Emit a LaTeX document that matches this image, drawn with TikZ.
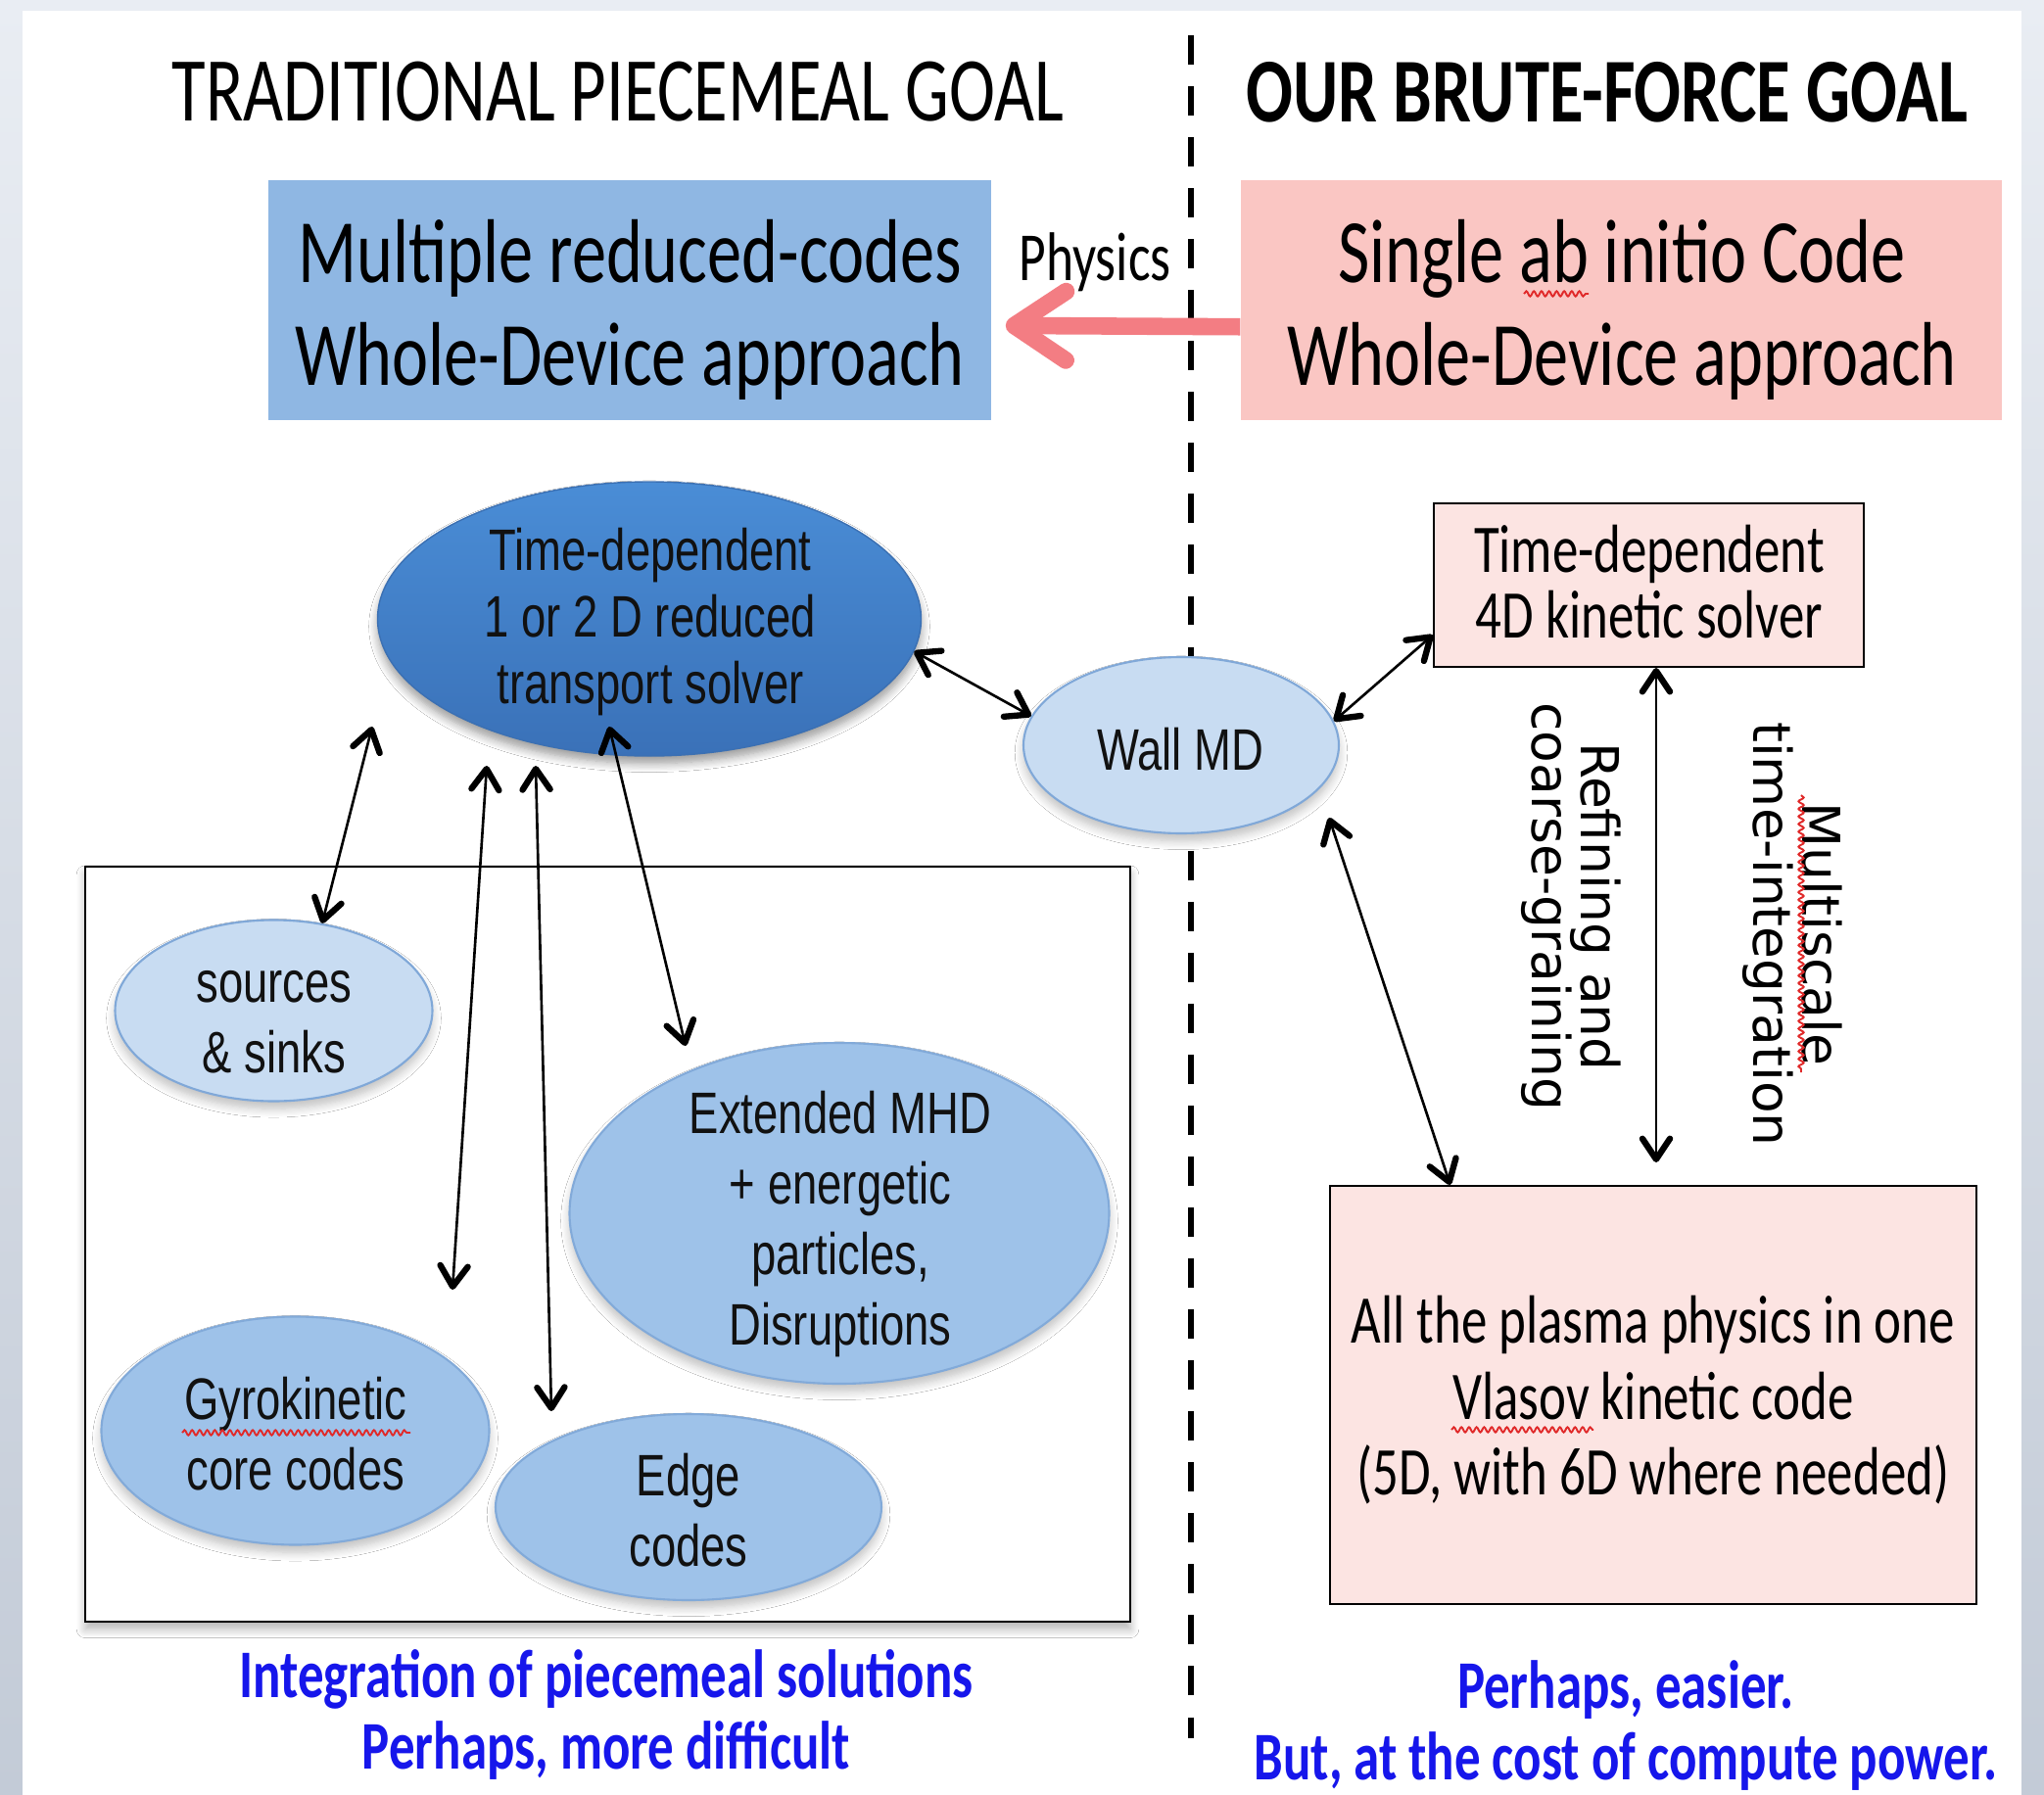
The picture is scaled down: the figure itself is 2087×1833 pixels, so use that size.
\documentclass[tikz,border=0pt]{standalone}
\usepackage{fontspec}
\newfontfamily\calfont[FakeStretch=0.76]{Carlito}
\newfontfamily\arfont[FakeStretch=0.76]{Liberation Sans}
\newfontfamily\vfont{DejaVu Sans}
\usetikzlibrary{arrows.meta,shapes.geometric,shadows.blur,decorations.pathmorphing,calc}

\definecolor{PageGrey}{HTML}{E9EDF3}
\definecolor{PageGreyLow}{HTML}{C3CBD7}
\definecolor{SteelBox}{HTML}{8FB7E3}
\definecolor{RoseBox}{HTML}{FAC6C3}
\definecolor{PaleRose}{HTML}{FCE4E2}
\definecolor{ArrowPink}{HTML}{F37D83}
\definecolor{DarkTop}{HTML}{4A8DD6}
\definecolor{DarkBot}{HTML}{3A71B8}
\definecolor{DarkEdge}{HTML}{3B70B3}
\definecolor{LightFill}{HTML}{C8DCF2}
\definecolor{LightEdge}{HTML}{80A8D8}
\definecolor{MidFill}{HTML}{9EC2E9}
\definecolor{MidEdge}{HTML}{82AAD9}
\definecolor{NoteBlue}{RGB}{22,22,235}
\definecolor{SpellRed}{HTML}{E02A2A}
\definecolor{InkBlack}{HTML}{111111}

\begin{document}
\begin{tikzpicture}[x=0.01cm, y=-0.01cm,
  sz/.style 2 args={minimum width=#1*0.01cm, minimum height=#2*0.01cm},
  softshadow/.style={blur shadow={shadow xshift=0pt, shadow yshift=-2.2pt,
      shadow blur radius=2.5pt, shadow blur steps=8, shadow opacity=#1}},
  dline/.style={line width=1.55pt, dash pattern=on 8.5pt off 6.3pt},
  ttl/.style={inner sep=0pt, text=black, font=\calfont\fontsize{26.5}{30}\selectfont},
  ttlbold/.style={ttl, font=\calfont\bfseries\fontsize{26.5}{30}\selectfont},
  steelbox/.style={rectangle, inner sep=0pt, fill=SteelBox},
  rosebox/.style={rectangle, inner sep=0pt, fill=RoseBox},
  boxtxt/.style={align=center, inner sep=0pt, text=black,
      font=\calfont\fontsize{26.3}{29.9}\selectfont},
  phystxt/.style={inner sep=0pt, text=black, font=\calfont\fontsize{20}{24}\selectfont},
  fatarrow/.style={line width=5pt, draw=ArrowPink,
      -{Straight Barb[length=15pt, width=20pt, round]}},
  codesframe/.style={rectangle, inner sep=0pt, draw=black, line width=0.75pt,
      fill=white, softshadow=30},
  darkell/.style={ellipse, inner sep=0pt, top color=DarkTop, bottom color=DarkBot,
      draw=DarkEdge, line width=0.4pt, softshadow=40},
  lightell/.style={ellipse, inner sep=0pt, fill=LightFill, draw=LightEdge,
      line width=0.6pt, softshadow=25},
  midell/.style={ellipse, inner sep=0pt, fill=MidFill, draw=MidEdge,
      line width=0.6pt, softshadow=25},
  elltxt/.style={align=center, inner sep=0pt, text=InkBlack,
      font=\arfont\fontsize{17}{20.5}\selectfont},
  solvertxt/.style={elltxt, font=\arfont\fontsize{17}{19.4}\selectfont},
  pinkbox/.style={rectangle, inner sep=0pt, fill=PaleRose, draw=black, line width=0.6pt},
  pinktxt/.style={align=center, inner sep=0pt, text=black,
      font=\calfont\fontsize{19.8}{19}\selectfont},
  vlasovtxt/.style={pinktxt, font=\calfont\fontsize{19.8}{22}\selectfont},
  sidetxt/.style={align=center, inner sep=0pt, rotate=-90, text=black,
      font=\vfont\fontsize{15.2}{14.2}\selectfont,
      execute at begin node={\lineskiplimit=-100pt\relax}},
  bluetxt/.style={align=center, inner sep=0pt, text=NoteBlue,
      font=\calfont\bfseries\fontsize{19.8}{21}\selectfont},
  biarrow/.style={line width=0.75pt, draw=black,
      {Straight Barb[length=6pt, width=8pt, line width=1.8pt, round]}-{Straight Barb[length=6pt, width=8pt, line width=1.8pt, round]}},
  squig/.style={draw=SpellRed, line width=0.55pt, decorate,
      decoration={snake, amplitude=0.75pt, segment length=2.2pt}}
]
\useasboundingbox (0,0) rectangle (2087,1833);

% page and panel
\fill[top color=PageGrey, bottom color=PageGreyLow] (0,0) rectangle (2087,1833);
\fill[white] (23,11) rectangle (2064,1833);

% separator between the two halves
\draw[dline] (1216,36) -- (1216,1775);

% headings
\node[ttl] (ttlL) at (631,94) {TRADITIONAL PIECEMEAL GOAL};
\node[ttlbold] (ttlR) at (1641,94) {OUR BRUTE-FORCE GOAL};

% top boxes
\node[steelbox, sz={738}{245}] (lbox) at (643,306.5) {};
\node[boxtxt] (ltxt) at (643,316) {Multiple reduced-codes\\Whole-Device approach};
\node[rosebox, sz={777}{245}] (rbox) at (1655.5,306.5) {};
\node[boxtxt] (rtxt) at (1656,316) {Single ab initio Code\\Whole-Device approach};
\draw[squig] (1556,300) -- (1622,300);

% physics arrow
\draw[fatarrow, shorten >=4pt] (rbox.184.05) -- (lbox.-4.26);
\node[phystxt] (phys) at (1118,268) {Physics};

% frame holding the reduced codes
\node[codesframe, sz={1067}{771}] (frame) at (620.5,1270.5) {};

% ellipses
\node[darkell, sz={555}{280}] (solver) at (663,632) {};
\node[solvertxt] (solvertext) at (664,635) {Time-dependent\\1 or 2 D reduced\\transport solver};

\node[lightell, sz={322}{180}] (wall) at (1206,761) {};
\node[elltxt] (walltxt) at (1205,765) {Wall MD};

\node[lightell, sz={324}{185}] (src) at (279.5,1032) {};
\node[elltxt] (srctxt) at (280,1044) {sources\\\& sinks};

\node[midell, sz={551}{348}] (mhd) at (857,1239) {};
\node[elltxt] (mhdtxt) at (858,1250) {Extended MHD\\+ energetic\\particles,\\Disruptions};

\node[midell, sz={396}{233}] (gyro) at (301.5,1461) {};
\node[elltxt] (gyrotxt) at (302,1464) {Gyrokinetic\\core codes};
\draw[squig] (186,1463) -- (419,1463);

\node[midell, sz={394}{190}] (edge) at (703,1539) {};
\node[elltxt] (edgetxt) at (703,1542) {Edge\\codes};

% kinetic solver boxes
\node[pinkbox, sz={439}{167}] (kin) at (1683.5,597.5) {};
\node[pinktxt] (kintxt) at (1684,594) {Time-dependent\\4D kinetic solver};

\node[pinkbox, sz={660}{427}] (vl) at (1688,1424.5) {};
\node[vlasovtxt] (vltxt) at (1688,1430) {All the plasma physics in one\\Vlasov kinetic code\\(5D, with 6D where needed)};
\draw[squig] (1482,1460) -- (1627,1460);

% vertical labels
\node[sidetxt] (refine) at (1604,926) {Refining and\\coarse-graining};
\node[sidetxt] (multi) at (1830,954) {Multiscale\\time-integration};
\draw[squig] (1839,812) -- (1839,1095);

% connectors
\coordinate (a1) at (380,742);
\coordinate (g1) at (497,782);
\coordinate (g2) at (462,1317);
\coordinate (e1) at (547,782);
\coordinate (e2) at (563,1441);
\coordinate (m1) at (622,742);
\coordinate (m2) at (700,1068);
\coordinate (w3) at (1357,835);
\coordinate (k1) at ($(kin.south)+(7.5,0)$);
\coordinate (k2) at (1691,1187);

\draw[biarrow] (a1) -- (src.61);
\draw[biarrow] (g1) -- (g2);
\draw[biarrow] (e1) -- (e2);
\draw[biarrow] (m1) -- (m2);
\draw[biarrow] (solver.-7.8) -- (wall.169.3);
\draw[biarrow] (wall.9.2) -- (kin.193.45);
\draw[biarrow] (w3) -- (vl.134.5);
\draw[biarrow] (k1) -- (k2);

% closing notes
\node[bluetxt] (note1) at (619,1751) {Integration of piecemeal solutions\\Perhaps, more difficult};
\node[bluetxt] (note2) at (1660,1762) {Perhaps, easier.\\But, at the cost of compute power.};
\end{tikzpicture}
\end{document}
